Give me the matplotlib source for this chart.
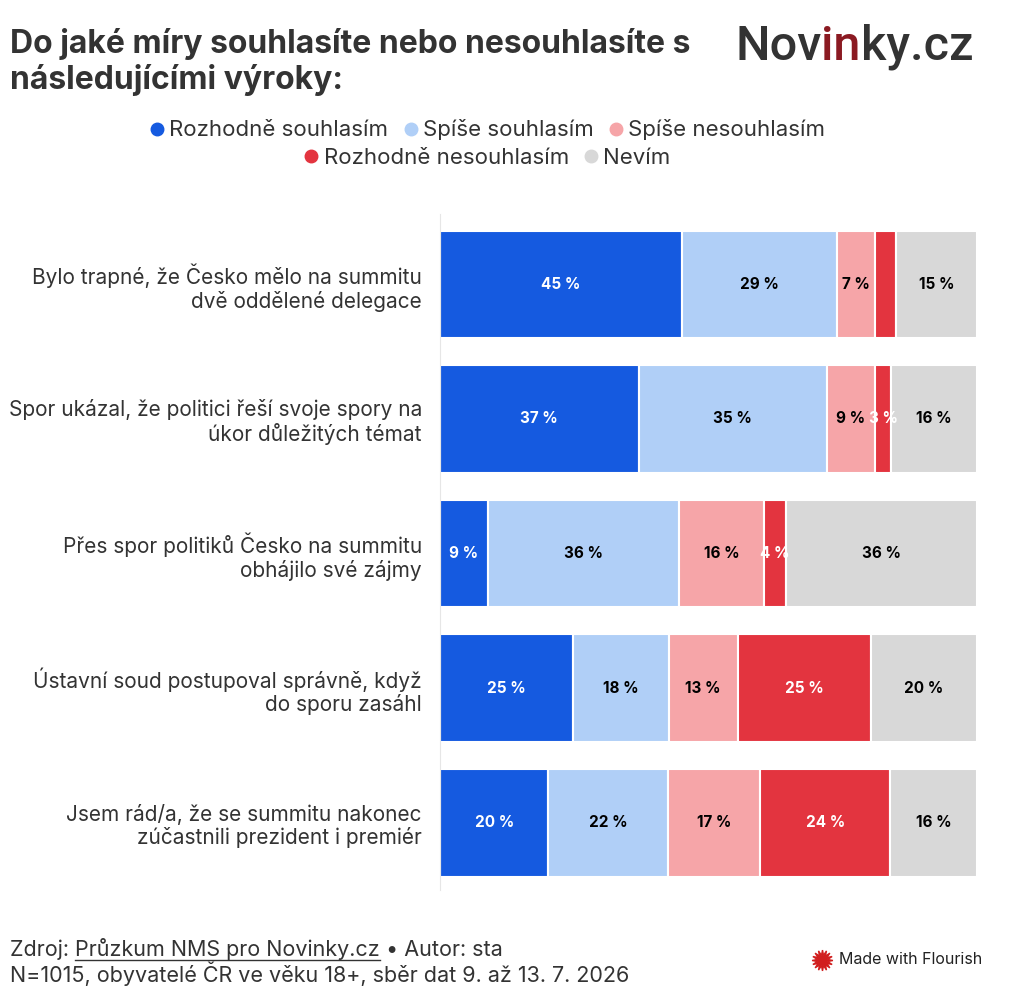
import numpy as np
import matplotlib
matplotlib.use("Agg")
import matplotlib.pyplot as plt
from matplotlib.lines import Line2D

plt.rcParams['font.family'] = ['Inter', 'DejaVu Sans']

# data
statements = [
    "Bylo trapné, že Česko mělo na summitu\ndvě oddělené delegace",
    "Spor ukázal, že politici řeší svoje spory na\núkor důležitých témat",
    "Přes spor politiků Česko na summitu\nobhájilo své zájmy",
    "Ústavní soud postupoval správně, když\ndo sporu zasáhl",
    "Jsem rád/a, že se summitu nakonec\nzúčastnili prezident i premiér",
]
answers = ["Rozhodně souhlasím", "Spíše souhlasím", "Spíše nesouhlasím",
           "Rozhodně nesouhlasím", "Nevím"]
rozhodne_souhlasim = [45, 37, 9, 25, 20]
spise_souhlasim = [29, 35, 36, 18, 22]
spise_nesouhlasim = [7, 9, 16, 13, 17]
rozhodne_nesouhlasim = [4, 3, 4, 25, 24]
nevim = [15, 16, 36, 20, 16]
# which labels Flourish shows (row 1 red segment has none)
show_label = [
    [True, True, True, True, True],
    [True, True, True, True, True],
    [True, True, True, True, True],
    [False, True, True, True, True],
    [True, True, True, True, True],
]

colors = ["#155ae0", "#b0cff7", "#f6a5a8", "#e3343f", "#d8d8d8"]
label_colors = ["white", "black", "black", "white", "black"]

series = np.array([rozhodne_souhlasim, spise_souhlasim, spise_nesouhlasim,
                   rozhodne_nesouhlasim, nevim], dtype=float)
shares = series / series.sum(axis=0) * 100

fig = plt.figure(figsize=(10.22, 10.08), dpi=100)
ax = fig.add_axes([0.4305, 0.117, 0.5255, 0.6703])

y = np.arange(len(statements))
left = np.zeros(len(statements))
for i, name in enumerate(answers):
    bars = ax.barh(y, shares[i], left=left, height=0.8, color=colors[i],
                   edgecolor="white", linewidth=1.5, label=name, zorder=2)
    for j, b in enumerate(bars):
        if show_label[i][j]:
            ax.text(left[j] + shares[i][j] / 2, y[j], f"{int(series[i][j])} %",
                    ha="center", va="center", fontsize=11, fontweight="bold",
                    color=label_colors[i], zorder=3)
    left += shares[i]

ax.set_xlim(0, 100)
ax.set_ylim(4.5, -0.52)
ax.set_yticks(y)
ax.set_yticklabels(statements, fontsize=15, color="#333333", linespacing=1.15)
ax.tick_params(axis="y", length=0, pad=13)
ax.set_xticks([])
for s in ["top", "right", "bottom"]:
    ax.spines[s].set_visible(False)
ax.spines["left"].set_color("#e6e6e6")
ax.grid(axis="y", color="#f0f0f0", linewidth=1, zorder=0)

# title
fig.text(0.0098, 0.972, "Do jaké míry souhlasíte nebo nesouhlasíte s\nnásledujícími výroky:",
         fontsize=23, fontweight="bold", color="#333333", va="top", linespacing=1.15)

# logo
fig.canvas.draw()
r = fig.canvas.get_renderer()
x0 = 735 / 1022
logo_y = 1 - 60 / 1008
for part, col in [("Nov", "#333333"), ("in", "#8b1a22"), ("ky.cz", "#333333")]:
    t = fig.text(x0, logo_y, part, fontsize=35, fontweight="medium", color=col,
                 ha="left", va="baseline", family=["Roboto", "DejaVu Sans"])
    bb = t.get_window_extent(r)
    x0 += bb.width / fig.bbox.width

# legend, two centered rows
def legend_row(idx, ypos):
    handles = [Line2D([], [], marker="o", linestyle="", markersize=9,
                      markerfacecolor=colors[k], markeredgecolor=colors[k]) for k in idx]
    fig.legend(handles, [answers[k] for k in idx], loc="center", ncol=len(idx),
               bbox_to_anchor=(0.475, ypos), frameon=False, fontsize=16,
               handletextpad=0.05, columnspacing=0.5, handlelength=1.0,
               labelcolor="#333333")

legend_row([0, 1, 2], 1 - 130 / 1008)
legend_row([3, 4], 1 - 158 / 1008)

# footer
fy1 = 1 - 956 / 1008
fy2 = 1 - 982 / 1008
xf = 10 / 1022
for part, underline in [("Zdroj: ", False), ("Průzkum NMS pro Novinky.cz", True),
                        (" • Autor: sta", False)]:
    t = fig.text(xf, fy1, part, fontsize=15.5, color="#333333", va="baseline")
    bb = t.get_window_extent(r)
    w = bb.width / fig.bbox.width
    if underline:
        fig.add_artist(Line2D([xf, xf + w], [fy1 - 4 / 1008] * 2, color="#333333",
                              linewidth=1, transform=fig.transFigure))
    xf += w
fig.text(10 / 1022, fy2, "N=1015, obyvatelé ČR ve věku 18+, sběr dat 9. až 13. 7. 2026",
         fontsize=15.5, color="#333333", va="baseline")

fig.add_artist(Line2D([822 / 1022], [1 - 960 / 1008], marker=(16, 1, 0), markersize=15,
                      color="#d11f1f", transform=fig.transFigure))
fig.text(839 / 1022, 1 - 960 / 1008, "Made with Flourish", fontsize=11.5, color="#222222",
         va="center")

fig.savefig("out.png", dpi=100)
